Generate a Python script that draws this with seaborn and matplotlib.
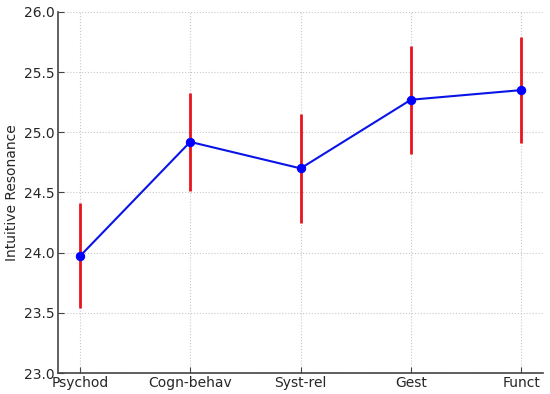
import numpy as np
import pandas as pd
import matplotlib
matplotlib.use('Agg')
import matplotlib.pyplot as plt
import seaborn as sns

categories = ['Psychod', 'Cogn-behav', 'Syst-rel', 'Gest', 'Funct']
means = [23.97, 24.92, 24.70, 25.27, 25.35]
lower = [23.54, 24.51, 24.25, 24.82, 24.91]
upper = [24.41, 25.33, 25.15, 25.72, 25.79]


def main():
    df = pd.DataFrame({'school': categories, 'score': means,
                       'lo': lower, 'hi': upper})

    sns.set_style('whitegrid')
    plt.rcParams['font.family'] = ['DejaVu Sans']

    fig, ax = plt.subplots(figsize=(5.5, 3.94), dpi=100)

    # error bars first so the markers sit on top
    yerr = np.array([df['score'] - df['lo'], df['hi'] - df['score']])
    ax.errorbar(np.arange(len(df)), df['score'], yerr=yerr, fmt='none',
                ecolor='#e8141c', elinewidth=2, capsize=0, zorder=2)

    sns.lineplot(data=df, x=np.arange(len(df)), y='score', color='#0a14e6',
                 marker='o', markersize=6, markeredgecolor='#0000ff',
                 markerfacecolor='#0000ff', linewidth=1.5, ax=ax, zorder=3)

    ax.set_xticks(np.arange(len(df)))
    ax.set_xticklabels(categories)
    ax.set_ylim(23.0, 26.0)
    ax.set_yticks(np.arange(23.0, 26.01, 0.5))
    ax.set_xlim(-0.2, 4.2)
    ax.set_ylabel('Intuitive Resonance', fontsize=10)
    ax.set_xlabel('')

    ax.grid(True, linestyle=':', color='#c8c8c8', linewidth=0.8)
    for side in ['top', 'right']:
        ax.spines[side].set_visible(False)
    for side in ['left', 'bottom']:
        ax.spines[side].set_color('#444444')
        ax.spines[side].set_linewidth(1.2)
    ax.tick_params(direction='in', length=4, color='#444444',
                   labelsize=10, left=True, bottom=True, pad=2)

    fig.subplots_adjust(left=0.105, right=0.988, top=0.97, bottom=0.053)
    fig.savefig('out.png', dpi=100)
    plt.close(fig)


if __name__ == '__main__':
    main()
